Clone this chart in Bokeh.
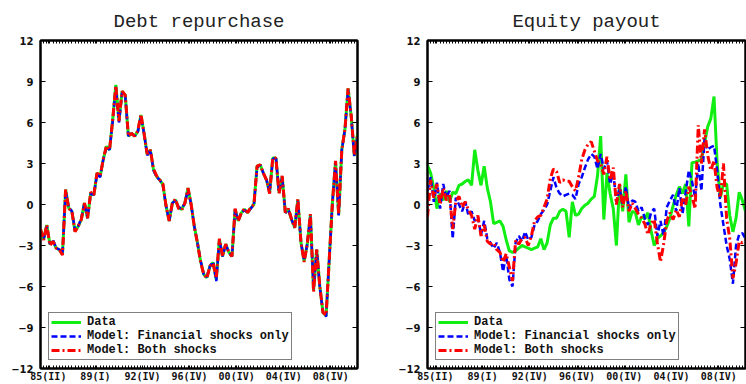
from bokeh.plotting import figure
from bokeh.layouts import row
from bokeh.models import Range1d, FixedTicker, LinearAxis, Legend, LegendItem
from bokeh.embed import file_html
from bokeh.resources import INLINE

# Quarterly observations, 1985Q2 onward (index = quarter number)
debt_data = [-1.8, -2.55, -1.5, -2.9, -2.7, -3.2, -3.3, -3.65, 1.1, -0.25,
             -0.5, -1.95, -1.6, -1.1, 0.1, -1.0, 0.85, 0.7, 2.3, 2.05,
             3.3, 4.25, 4.0, 6.2, 8.75, 6.1, 8.3, 8.0, 5.0, 5.2,
             5.0, 5.35, 6.55, 5.2, 3.65, 4.0, 2.55, 2.05, 1.8, 1.45,
             -0.1, -1.2, 0.1, 0.35, -0.25, -0.35, 0.1, 1.2, 0.0, -1.6,
             -2.8, -4.15, -5.1, -5.35, -4.5, -4.25, -5.5, -2.55, -3.8, -2.9,
             -3.5, -3.8, -0.35, -1.2, -0.6, -0.35, -0.6, -0.25, 0.0, 2.8,
             2.9, 2.3, 1.8, 0.85, 3.4, 3.4, 0.85, 2.05, -0.6, -0.35,
             -1.1, -1.7, 0.35, -2.8, -4.15, -2.9, -0.75, -6.3, -3.3, -6.0,
             -7.9, -8.15, -4.0, 0.1, 3.15, -0.75, 4.0, 5.5, 8.5, 6.45,
             3.55, 5.1]
debt_fin = [-1.9, -2.5, -1.6, -2.9, -2.6, -3.2, -3.3, -3.6, 1.0, -0.2,
            -0.5, -1.9, -1.6, -1.0, 0.1, -1.0, 0.8, 0.7, 2.2, 2.0,
            3.3, 4.2, 4.0, 6.1, 8.6, 6.0, 8.2, 7.9, 5.0, 5.2,
            5.0, 5.3, 6.4, 5.2, 3.6, 4.0, 2.5, 2.0, 1.8, 1.4,
            -0.1, -1.2, 0.1, 0.3, -0.2, -0.3, 0.1, 1.1, 0.0, -1.6,
            -2.8, -4.1, -5.1, -5.3, -4.5, -4.2, -5.6, -2.6, -3.8, -2.9,
            -3.5, -3.8, -0.4, -1.2, -0.6, -0.4, -0.6, -0.3, 0.0, 2.7,
            2.9, 2.3, 1.8, 0.9, 3.3, 3.5, 0.9, 2.0, -0.6, -0.4,
            -1.1, -1.7, 0.3, -2.8, -4.1, -2.9, -0.8, -6.2, -3.3, -6.1,
            -7.9, -8.2, -4.0, 0.1, 3.1, -0.8, 4.0, 5.5, 8.4, 6.4,
            3.5, 5.0]
debt_both = [-1.8, -2.6, -1.5, -3.0, -2.7, -3.2, -3.3, -3.7, 1.1, -0.3,
             -0.5, -2.0, -1.6, -1.1, 0.1, -1.0, 0.9, 0.7, 2.3, 2.1,
             3.3, 4.3, 4.0, 6.2, 8.7, 6.1, 8.3, 8.0, 5.0, 5.2,
             5.0, 5.4, 6.6, 5.2, 3.7, 4.0, 2.6, 2.1, 1.8, 1.5,
             -0.1, -1.2, 0.1, 0.4, -0.3, -0.4, 0.1, 1.2, 0.0, -1.6,
             -2.8, -4.2, -5.1, -5.4, -4.5, -4.3, -5.4, -2.5, -3.8, -2.9,
             -3.5, -3.8, -0.3, -1.2, -0.6, -0.3, -0.6, -0.2, 0.0, 2.8,
             2.9, 2.3, 1.8, 0.8, 3.4, 3.4, 0.8, 2.1, -0.6, -0.3,
             -1.1, -1.7, 0.4, -2.8, -4.2, -2.9, -0.7, -6.4, -3.3, -6.0,
             -7.9, -8.1, -4.0, 0.1, 3.2, -0.7, 4.0, 5.5, 8.5, 6.5,
             3.6, 5.1]

eq_data = [2.85, 2.3, 1.2, -0.3, 0.8, 0.3, 1.0, 0.2, 0.9, 0.8,
           1.4, 1.5, 1.7, 1.8, 1.4, 4.0, 2.5, 1.4, 2.8, 1.2,
           0.2, -1.4, -1.3, -1.2, -1.6, -2.6, -3.4, -3.5, -3.4, -3.2,
           -3.0, -3.1, -3.2, -3.3, -3.2, -3.1, -2.5, -3.3, -2.8, -1.5,
           -1.0, -1.0, -0.5, -0.35, -0.5, -2.4, 0.2, -0.8, -0.7, -0.3,
           -0.05, 0.1, 0.4, 0.6, 2.1, 5.0, -1.1, 2.3, 0.8, -0.3,
           -3.0, 1.5, -0.5, 2.2, -1.3, -0.5, -0.6, -1.5, -0.9, -1.05,
           -0.6, -1.9, -3.0, -2.5, -2.3, -2.05, -1.6, -1.0, -0.1, 0.7,
           1.3, 0.8, 1.5, -1.6, 3.05, 3.1, 3.2, 3.3, 4.5, 5.7,
           6.3, 7.9, 3.0, 0.5, 1.5, 1.5, -0.8, -2.0, -1.0, 0.9,
           0.3, -0.5]
eq_fin = [1.0, 2.0, 0.2, 1.6, -0.3, 1.5, 0.5, 1.0, -2.5, 0.5,
          0.0, -0.5, 0.2, -0.8, -0.5, -1.2, -0.9, -2.2, -1.2, -2.5,
          -2.8, -3.2, -2.8, -3.5, -4.9, -3.7, -5.5, -6.0, -2.8, -2.3,
          -2.7, -2.0, -2.6, -2.4, -1.5, -1.2, -0.7, -0.4, 0.0, 1.0,
          2.0, 1.2, 0.8, 0.6, 0.7, 0.8, 0.7, 0.4, 1.5, 2.0,
          2.7, 3.3, 3.7, 3.5, 2.6, 3.7, 2.6, 3.2, 1.5, 2.3,
          0.2, 1.2, 0.0, 1.3, -0.3, 0.3, 0.2, -0.5, -0.2, -1.0,
          -1.5, -0.6, -0.3, -2.3, -1.2, -2.3, -0.2, 0.3, 0.7, -0.5,
          1.2, -0.7, 0.9, 2.5, 1.7, 0.5, 3.0, 1.0, 4.8, 4.0,
          4.2, 4.3, 2.5, 0.0, -1.5, -3.0, -4.0, -5.8, -3.0, -2.2,
          -2.1, -2.5]
eq_both = [-0.9, 1.8, 0.5, 1.5, 0.0, 1.2, 0.3, 0.8, -1.8, 0.2,
           0.6, -0.2, 0.2, -0.4, -0.8, -1.8, -0.8, -2.3, -1.5, -2.7,
           -2.9, -2.8, -3.3, -3.5, -4.2, -3.6, -4.6, -5.6, -2.6, -2.9,
           -2.5, -2.4, -3.0, -2.3, -1.2, -0.9, -0.8, -0.2, 0.4, 1.9,
           2.6, 2.4, 1.6, 1.8, 1.7, 1.7, 1.3, 1.0, 2.0, 3.3,
           4.0, 4.4, 4.6, 3.9, 3.2, 3.0, 2.2, 3.5, 1.8, 2.7,
           0.0, 1.5, -0.2, 1.0, -0.5, 0.1, -0.3, -0.7, -1.0, -1.4,
           -2.2, -1.4, -1.1, -2.8, -4.2, -2.9, -1.2, -0.6, -1.1, -0.4,
           -0.9, 0.5, 0.0, 1.3, 0.6, -0.3, 5.8, 3.0, 5.5, 3.6,
           2.5, 3.2, 1.2, 0.5, 3.0, -1.0, -2.5, -5.4, -4.3, -2.7,
           -2.8, -2.6]

tick_quarters = [0, 15, 30, 45, 60, 75, 90]
tick_labels = ["85(II)", "89(I)", "92(IV)", "96(IV)", "00(IV)", "04(IV)", "08(IV)"]
y_ticks = [-12, -9, -6, -3, 0, 3, 6, 9, 12]
series_names = ["Data", "Model: Financial shocks only", "Model: Both shocks"]

n = len(debt_data)
xs = list(range(n))
LABEL_SHIFT = 2.5
xt = [q + LABEL_SHIFT for q in tick_quarters]


def make_panel(title, data, fin, both, width, bl, br):
    p = figure(width=width, height=384, x_range=Range1d(0, n - 1),
               y_range=Range1d(-12, 12), output_backend="svg",
               toolbar_location=None, min_border_left=bl,
               min_border_right=br, min_border_top=40, min_border_bottom=14)
    p.title.text = title
    p.title.align = "center"
    p.title.text_font = "Liberation Mono"
    p.title.text_font_style = "normal"
    p.title.text_font_size = "19px"
    p.title.text_color = "#222222"
    p.title.standoff = 15
    p.grid.visible = False
    p.outline_line_color = "black"
    p.outline_line_width = 2
    p.background_fill_color = "white"
    p.border_fill_color = "white"

    r1 = p.line(xs, data, color="#11ee11", line_width=3)
    r2 = p.line(xs, fin, color="#0000ff", line_width=2.5, line_dash="6 3")
    r3 = p.line(xs, both, color="#ff0000", line_width=3, line_dash="8 3 2 3")

    xticker = FixedTicker(ticks=xt, minor_ticks=xs)
    xa = p.below[0]
    xa.ticker = xticker
    xa.major_label_overrides = {t: l for t, l in zip(xt, tick_labels)}
    xa.major_label_text_font = "DejaVu Sans Mono"
    xa.major_label_text_font_style = "bold"
    xa.major_label_text_font_size = "10px"
    xa.major_label_text_color = "#111111"
    xa.major_label_standoff = 2
    xa.major_tick_in = 3
    xa.major_tick_out = 0
    xa.minor_tick_in = 3
    xa.minor_tick_out = 0
    xa.axis_line_width = 2

    ya = p.left[0]
    ya.ticker = FixedTicker(ticks=y_ticks)
    ya.major_label_text_font = "DejaVu Sans"
    ya.major_label_text_font_style = "bold"
    ya.major_label_text_font_size = "10px"
    ya.major_label_text_color = "#111111"
    ya.major_label_standoff = 7
    ya.major_tick_in = 5
    ya.major_tick_out = 0
    ya.minor_tick_line_color = None
    ya.axis_line_width = 2

    top = LinearAxis(ticker=FixedTicker(ticks=xt, minor_ticks=xs),
                     major_label_text_color=None, major_label_standoff=0,
                     major_tick_in=3, major_tick_out=0, minor_tick_in=3,
                     minor_tick_out=0, axis_line_width=2)
    p.add_layout(top, "above")
    right = LinearAxis(ticker=FixedTicker(ticks=y_ticks),
                       major_label_text_color=None, major_label_standoff=0,
                       major_tick_in=5, major_tick_out=0,
                       minor_tick_line_color=None, axis_line_width=2)
    p.add_layout(right, "right")

    legend = Legend(items=[LegendItem(label=series_names[0], renderers=[r1]),
                           LegendItem(label=series_names[1], renderers=[r2]),
                           LegendItem(label=series_names[2], renderers=[r3])],
                    location="bottom_left")
    legend.margin = 8
    legend.padding = 2
    legend.spacing = 0
    legend.label_height = 12
    legend.glyph_height = 12
    legend.glyph_width = 30
    legend.label_standoff = 6
    legend.label_text_font = "Liberation Mono"
    legend.label_text_font_style = "bold"
    legend.label_text_font_size = "12px"
    legend.label_text_color = "#111111"
    legend.border_line_color = "black"
    legend.border_line_width = 1.5
    legend.background_fill_alpha = 1
    p.add_layout(legend)
    return p


p1 = make_panel("Debt repurchase", debt_data, debt_fin, debt_both, 373, 40, 16)
p2 = make_panel("Equity payout", eq_data, eq_fin, eq_both, 373, 54, 1)
layout = row(p1, p2)

open("out.html", "w").write(file_html(layout, INLINE))
